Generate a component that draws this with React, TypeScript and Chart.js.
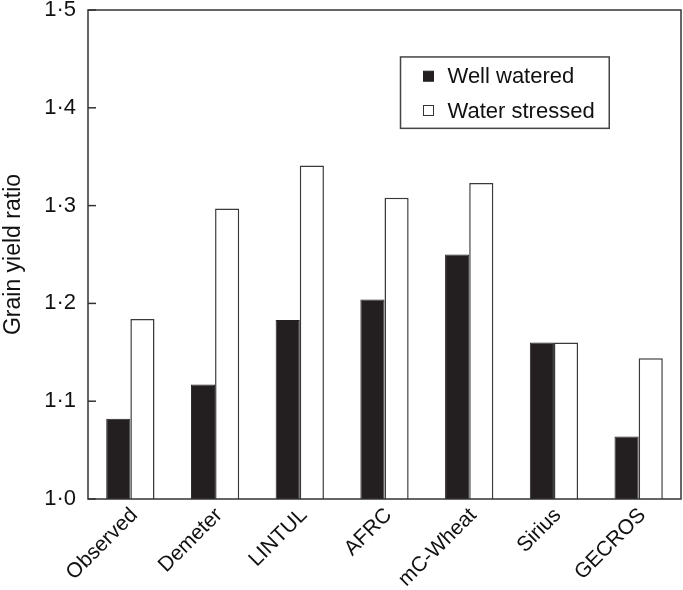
import React, { useEffect, useRef } from 'react';
import { Chart, registerables } from 'chart.js';

Chart.register(...registerables);

const categories = ['Observed', 'Demeter', 'LINTUL', 'AFRC', 'mC-Wheat', 'Sirius', 'GECROS'];
const wellWatered = [1.082, 1.117, 1.183, 1.204, 1.25, 1.16, 1.064];
const waterStressed = [1.184, 1.297, 1.341, 1.308, 1.323, 1.16, 1.144];
const seriesNames = ['Well watered', 'Water stressed'];
const yTickValues = [1.0, 1.1, 1.2, 1.3, 1.4, 1.5];
const yTitle = 'Grain yield ratio';

const FONT = "'Liberation Sans', Arial, Helvetica, sans-serif";
const FRAME = '#333333';
const BLACK = '#231f20';

const framePlugin = {
  id: 'framePlugin',
  afterDatasetsDraw(chart: any) {
    const { ctx, chartArea: ca, scales } = chart;
    const w = ca.right - ca.left;
    const h = ca.bottom - ca.top;
    ctx.save();
    ctx.strokeStyle = FRAME;
    ctx.lineWidth = 1.5;
    ctx.strokeRect(ca.left, ca.top, w, h);
    const ys = scales.y;
    ys.ticks.forEach((t: any) => {
      const py = ys.getPixelForValue(t.value);
      ctx.beginPath();
      ctx.moveTo(ca.left, py);
      ctx.lineTo(ca.left + 8, py);
      ctx.stroke();
    });

    // legend box
    const bx = ca.left + w * 0.527;
    const bw = w * 0.352;
    const by = ca.top + h * 0.096;
    const bh = h * 0.146;
    ctx.fillStyle = '#ffffff';
    ctx.fillRect(bx, by, bw, bh);
    ctx.strokeStyle = '#444444';
    ctx.lineWidth = 1.5;
    ctx.strokeRect(bx, by, bw, bh);
    const ds = chart.data.datasets;
    ctx.font = `22px ${FONT}`;
    ctx.textBaseline = 'middle';
    ctx.textAlign = 'left';
    ds.forEach((d: any, i: number) => {
      const cy = by + bh * (0.27 + 0.48 * i);
      const sx = bx + 23;
      ctx.fillStyle = d.backgroundColor;
      ctx.fillRect(sx, cy - 5, 10, 10);
      ctx.strokeStyle = i === 0 ? BLACK : '#333333';
      ctx.lineWidth = 1;
      ctx.strokeRect(sx, cy - 5, 10, 10);
      ctx.fillStyle = '#111111';
      ctx.fillText(d.label, bx + 47, cy + 1);
    });
    ctx.restore();
  },
};

export default function App() {
  const ref = useRef<HTMLCanvasElement>(null);

  useEffect(() => {
    document.body.style.margin = '0';
    const canvas = ref.current;
    if (!canvas) return;
    const chart = new Chart(canvas, {
      type: 'bar',
      data: {
        labels: categories,
        datasets: [
          {
            label: seriesNames[0],
            data: wellWatered,
            backgroundColor: BLACK,
            borderColor: BLACK,
            borderWidth: 1,
            categoryPercentage: 0.57,
            barPercentage: 1.0,
          },
          {
            label: seriesNames[1],
            data: waterStressed,
            backgroundColor: '#ffffff',
            borderColor: '#3a3a3a',
            borderWidth: 1.5,
            categoryPercentage: 0.57,
            barPercentage: 1.0,
          },
        ],
      },
      options: {
        animation: false,
        responsive: true,
        maintainAspectRatio: false,
        layout: { padding: { top: 10, right: 2, left: 0, bottom: 0 } },
        plugins: {
          legend: { display: false },
          tooltip: { enabled: false },
        },
        scales: {
          x: {
            grid: { display: false, drawTicks: false },
            border: { display: false },
            ticks: {
              autoSkip: false,
              minRotation: 45,
              maxRotation: 45,
              padding: 4,
              labelOffset: 4,
              color: '#111111',
              font: { family: FONT, size: 21 },
            },
            afterFit(scale: any) {
              scale.height = 91;
              scale.paddingLeft = 0;
              scale.paddingRight = 0;
            },
          },
          y: {
            min: 1.0,
            max: 1.5,
            grid: { display: false, drawTicks: false },
            border: { display: false },
            afterBuildTicks(scale: any) {
              scale.ticks = yTickValues.map((v) => ({ value: v }));
            },
            ticks: {
              padding: 12,
              color: '#111111',
              font: { family: FONT, size: 22 },
              callback: (v: any) => Number(v).toFixed(1).replace('.', '\u00b7'),
            },
            title: {
              display: true,
              text: yTitle,
              color: '#111111',
              font: { family: FONT, size: 23 },
              padding: { top: 0, bottom: 0 },
            },
            afterFit(scale: any) {
              scale.width = 88;
              scale.paddingTop = 0;
              scale.paddingBottom = 0;
            },
          },
        },
      },
      plugins: [framePlugin],
    });
    return () => chart.destroy();
  }, []);

  return (
    <div style={{ width: 683, height: 590, position: 'relative' }}>
      <canvas ref={ref} />
    </div>
  );
}
